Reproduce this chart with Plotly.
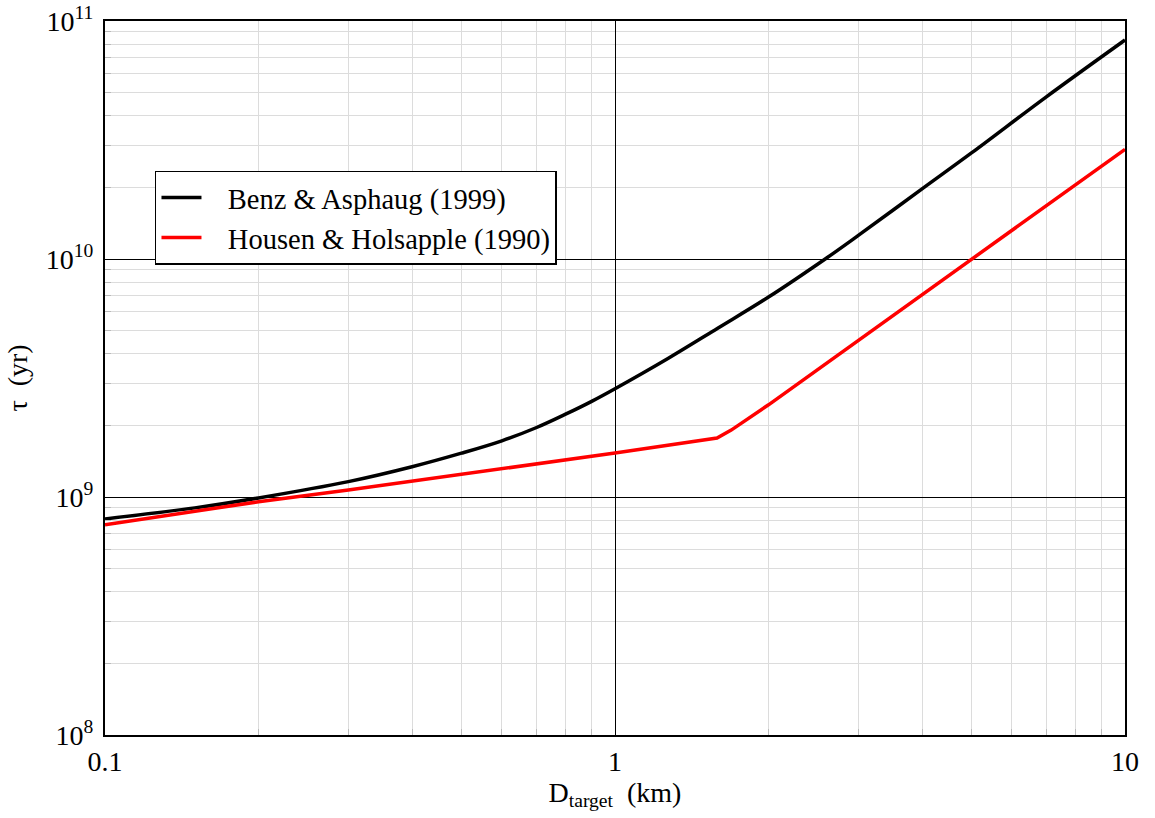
import plotly.graph_objects as go

# Benz & Asphaug (1999)
benz_x = [0.1, 0.15, 0.2, 0.3, 0.4, 0.5, 0.6, 0.7, 0.8, 0.9, 1.0, 1.27, 1.59, 2.0, 2.6, 3.0, 4.0, 5.0, 7.0, 10.0]
benz_y = [8.09e8, 9.0e8, 9.91e8, 1.16e9, 1.34e9, 1.528e9, 1.722e9, 1.954e9, 2.228e9, 2.523e9, 2.851e9,
          3.82e9, 5.12e9, 6.92e9, 1.01e10, 1.256e10, 1.97e10, 2.79e10, 4.79e10, 8.32e10]

# Housen & Holsapple (1990)
housen_x = [0.1, 0.2, 0.3, 0.5, 1.0, 1.585, 1.69, 2.0, 3.0, 4.0, 5.0, 6.0, 8.0, 10.0]
housen_y = [7.65e8, 9.55e8, 1.07e9, 1.245e9, 1.53e9, 1.77e9, 1.91e9, 2.44e9, 4.54e9, 7.06e9,
            9.99e9, 1.31e10, 2.05e10, 2.89e10]

x_ticks = [0.1, 1, 10]
x_ticktext = ["0.1", "1", "10"]
y_ticks = [1e8, 1e9, 1e10, 1e11]
y_ticktext = ["10<sup>8</sup>", "10<sup>9</sup>", "10<sup>10</sup>", "10<sup>11</sup>"]

x_minor = [m * d for d in (0.1, 1) for m in range(2, 10)]
y_minor = [m * d for d in (1e8, 1e9, 1e10) for m in range(2, 10)]

FONT = "Liberation Serif, Times New Roman, serif"
NB = "\u00a0\u00a0\u00a0"

fig = go.Figure()
fig.add_trace(go.Scatter(x=benz_x, y=benz_y, mode="lines", name=NB + "Benz & Asphaug (1999)",
                         line=dict(color="black", width=3.5, shape="spline", smoothing=1.0)))
fig.add_trace(go.Scatter(x=housen_x, y=housen_y, mode="lines", name=NB + "Housen & Holsapple (1990)",
                         line=dict(color="#ff0000", width=3.5)))

axis_common = dict(
    showline=True, linecolor="black", linewidth=2, mirror=True,
    showgrid=True, gridcolor="black", gridwidth=1,
    ticks="inside", ticklen=8, tickcolor="black", tickwidth=1,
    tickfont=dict(family=FONT, size=28, color="black"),
    zeroline=False, automargin=False, ticklabeloverflow="allow",
)

fig.update_xaxes(type="log", range=[-1, 1], tickmode="array", tickvals=x_ticks, ticktext=x_ticktext,
                 minor=dict(tickmode="array", tickvals=x_minor, showgrid=True, gridcolor="#dcdcdc",
                            gridwidth=1, ticks="inside", ticklen=6, tickcolor="#bbbbbb"),
                 title=dict(text="D<sub>target</sub>  (km)", font=dict(family=FONT, size=28, color="black"),
                            standoff=0),
                 **axis_common)
fig.update_yaxes(type="log", range=[8, 11], tickmode="array", tickvals=y_ticks, ticktext=y_ticktext,
                 ticklabelstandoff=4,
                 minor=dict(tickmode="array", tickvals=y_minor, showgrid=True, gridcolor="#dcdcdc",
                            gridwidth=1, ticks="inside", ticklen=6, tickcolor="#bbbbbb"),
                 title=dict(text="τ  (yr)", font=dict(family=FONT, size=28, color="black"), standoff=10),
                 **axis_common)

fig.update_layout(
    width=1155, height=818,
    margin=dict(l=105, r=30, t=21, b=83),
    paper_bgcolor="white", plot_bgcolor="white",
    font=dict(family=FONT, size=28, color="black"),
    showlegend=True,
    legend=dict(x=0.049, y=0.79, xanchor="left", yanchor="top",
                bgcolor="white", bordercolor="black", borderwidth=1.5,
                font=dict(family=FONT, size=28.5, color="black"),
                tracegroupgap=0, itemwidth=40),
)

fig.write_html("out.html", config={"displayModeBar": False},
               post_script="document.body.style.margin='0';document.body.style.overflow='hidden';")
